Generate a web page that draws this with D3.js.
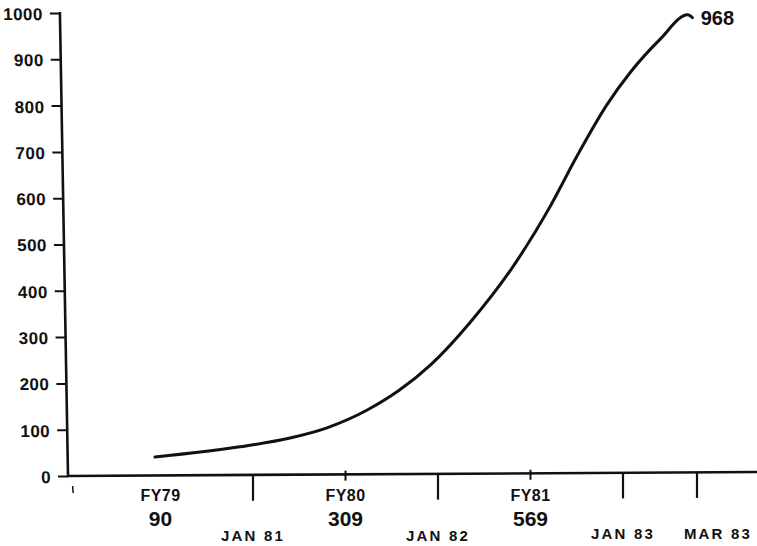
<!DOCTYPE html>
<html>
<head>
<meta charset="utf-8">
<script src="https://cdn.jsdelivr.net/npm/d3@7"></script>
<style>
  html, body { margin: 0; padding: 0; background: #fff; }
  svg { display: block; }
  text { font-family: "Liberation Sans", Arial, Helvetica, sans-serif; font-weight: bold; fill: #111; }
</style>
</head>
<body>
<svg id="chart" width="757" height="546"></svg>
<script>
// ---- data ----
const yTickValues = [0, 100, 200, 300, 400, 500, 600, 700, 800, 900, 1000];
const fyLabels = ["FY79", "FY80", "FY81"];
const fyValues = [90, 309, 569];
const fyPositions = [0.5, 1.5, 2.5];
const monthLabels = ["JAN 81", "JAN 82", "JAN 83", "MAR 83"];
const monthPositions = [1, 2, 3, 3.4];
// curve (x in period units, y in value)
const curveX = [0.47, 0.93, 1.20, 1.40, 1.62, 1.79, 1.96, 2.17, 2.41, 2.61, 2.75, 2.91, 3.04, 3.20, 3.35, 3.375];
const curveY = [41, 63, 82, 104, 143, 185, 240, 330, 455, 585, 690, 800, 872, 943, 996, 990];
const endLabel = "968";

// ---- layout ----
const svg = d3.select("#chart");
const x0 = 68, yBase = 476, yTop = 13;
const x = d3.scaleLinear().domain([0, 4]).range([x0, x0 + 740]);
const y = d3.scaleLinear().domain([0, 1000]).range([yBase, yTop]);

// y axis (slightly skewed like the scanned original)
const skew = 1.0;
const shift = -yBase * Math.tan(skew * Math.PI / 180);
const yAxis = d3.axisLeft(y).tickValues(yTickValues).tickSize(10).tickPadding(8).tickFormat(d3.format("d"));
const gy = svg.append("g").attr("transform", `translate(${x0 + shift},0) skewX(${skew})`).call(yAxis);
gy.select(".domain").attr("stroke", "#111").attr("stroke-width", 2.6).attr("d", `M0,${yTop - 1}V${yBase + 1}`);
gy.selectAll(".tick line").attr("stroke", "#111").attr("stroke-width", 2);
gy.selectAll(".tick text")
  .attr("font-size", 17).attr("letter-spacing", "0.5px")
  .attr("fill", "#111").attr("font-family", "Liberation Sans, Arial, sans-serif").attr("font-weight", "bold")
  .attr("x", -17).attr("dy", "0.38em");

// x axis line
svg.append("line")
  .attr("x1", x0 - 1).attr("x2", 757).attr("y1", yBase).attr("y2", yBase - 4)
  .attr("stroke", "#111").attr("stroke-width", 2.6);

// small origin mark
svg.append("line")
  .attr("x1", x(0.025)).attr("x2", x(0.028)).attr("y1", yBase + 10).attr("y2", yBase + 17)
  .attr("stroke", "#111").attr("stroke-width", 1.5);

// FY ticks (small, crossing the axis)
svg.selectAll(".fytick").data(fyPositions.slice(1)).enter().append("line")
  .attr("x1", d => x(d)).attr("x2", d => x(d))
  .attr("y1", d => yBase - 4 - d * 0.9).attr("y2", d => yBase + 6 - d * 0.9)
  .attr("stroke", "#111").attr("stroke-width", 2);

// month ticks (long, below axis)
svg.selectAll(".mtick").data(monthPositions).enter().append("line")
  .attr("x1", d => x(d)).attr("x2", d => x(d))
  .attr("y1", d => yBase - d * 1.0).attr("y2", d => yBase + 26 - d * 1.2)
  .attr("stroke", "#111").attr("stroke-width", 2.2);

// FY labels
svg.selectAll(".fylab").data(fyLabels).enter().append("text")
  .attr("x", (d, i) => x(fyPositions[i]))
  .attr("y", 501)
  .attr("text-anchor", "middle").attr("font-size", 16).attr("letter-spacing", "0.5px")
  .text(d => d);
svg.selectAll(".fyval").data(fyValues).enter().append("text")
  .attr("x", (d, i) => x(fyPositions[i]))
  .attr("y", 526)
  .attr("text-anchor", "middle").attr("font-size", 21)
  .text(d => d);

// month labels
svg.selectAll(".mlab").data(monthLabels).enter().append("text")
  .attr("x", (d, i) => x(monthPositions[i]) + (i === 3 ? 21 : 0))
  .attr("y", (d, i) => i >= 2 ? 539 : 541)
  .attr("text-anchor", "middle").attr("font-size", 15).attr("letter-spacing", "2.2px")
  .text(d => d);

// curve
const pts = curveX.map((d, i) => [d, curveY[i]]);
const line = d3.line().x(d => x(d[0])).y(d => y(d[1])).curve(d3.curveMonotoneX);
svg.append("path").datum(pts)
  .attr("d", line).attr("fill", "none").attr("stroke", "#111").attr("stroke-width", 3)
  .attr("stroke-linecap", "round").attr("stroke-linejoin", "round");

// end label
svg.append("text")
  .attr("x", x(3.42)).attr("y", y(1000) + 12)
  .attr("font-size", 20)
  .text(endLabel);
</script>
</body>
</html>
